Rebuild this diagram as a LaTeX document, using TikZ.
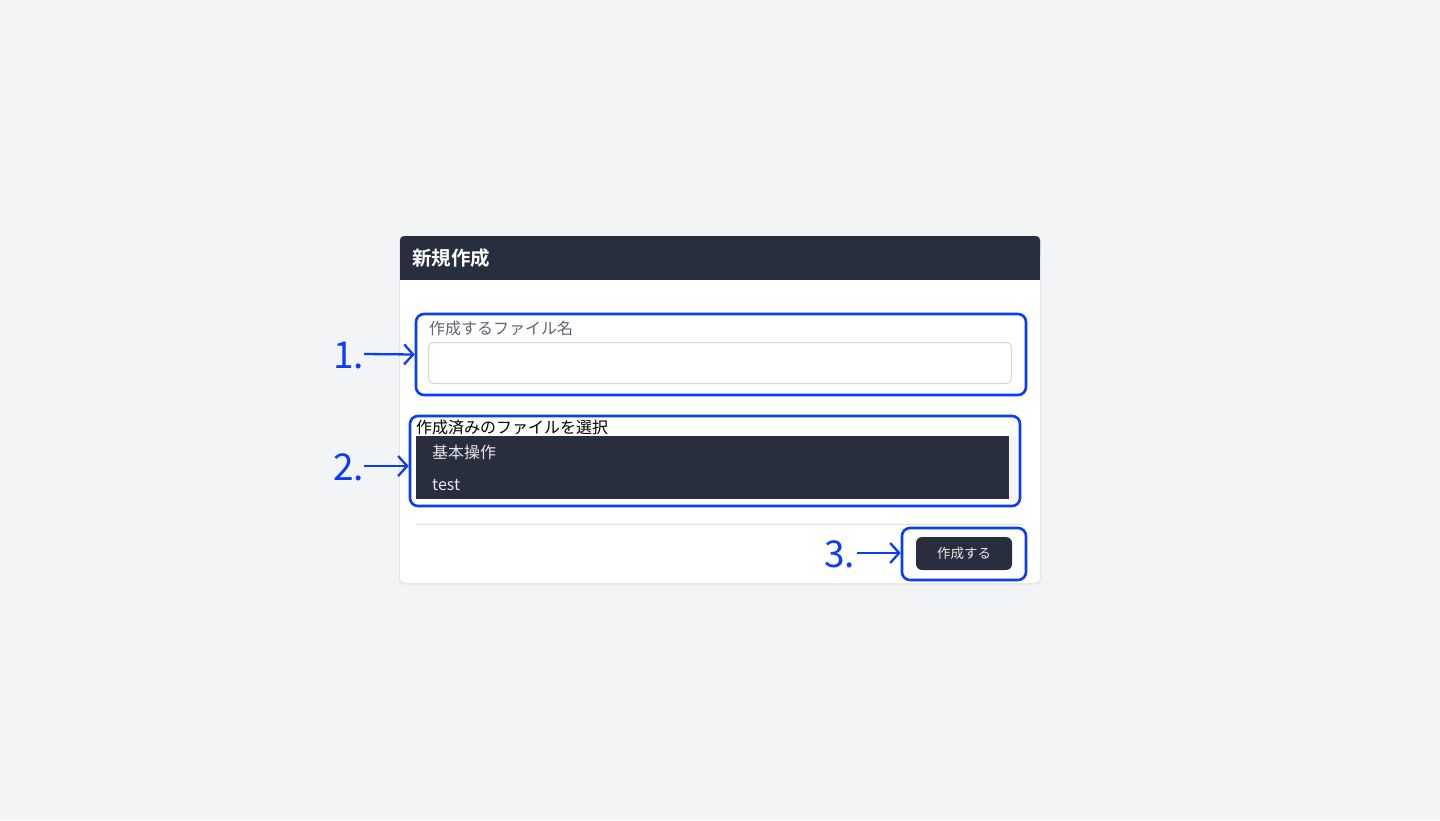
\documentclass[tikz,border=0pt]{standalone}
\usepackage{fontspec}
\setmainfont{Noto Sans CJK JP}
\newfontfamily\jpb{Noto Sans CJK JP}[BoldFont={* Bold}]
\newfontfamily\jpl{Noto Sans CJK JP Light}
\usetikzlibrary{arrows.meta}
\definecolor{bgc}{HTML}{F3F4F6}
\definecolor{darkc}{HTML}{282E3E}
\definecolor{bluec}{HTML}{0A3CFF}
\definecolor{grayline}{HTML}{D4D6DA}
\definecolor{labelgray}{HTML}{5F6470}
\definecolor{lighttxt}{HTML}{E6E8EC}
\tikzset{
  x=1pt,y=-1pt,
  hl/.style={draw=bluec,line width=2.6pt,rounded corners=8pt},
  ptr/.style={draw=bluec,line width=2.3pt,-{Straight Barb[length=9pt,width=20pt,line width=2.3pt]}},
  num/.style={text=bluec,font=\fontsize{37}{37}\selectfont,inner sep=0pt,anchor=base west},
  lbl/.style={font=\fontsize{16}{16}\selectfont,inner sep=0pt,anchor=base west},
}
\begin{document}
\begin{tikzpicture}
\useasboundingbox (0,0) rectangle (1440,820);
\fill[bgc] (0,0) rectangle (1440,820);
% card
\fill[black!10,rounded corners=5pt] (399,236) rectangle (1041,584.5);
\fill[white,rounded corners=5pt] (400,236) rectangle (1040,583);
\fill[darkc,rounded corners=4pt] (400,236) rectangle (1040,260);
\fill[darkc] (400,250) rectangle (1040,280);
\node[font=\jpb\bfseries\fontsize{19.5}{19.5}\selectfont,text=white,inner sep=0pt,anchor=base west] (title) at (412,265) {新規作成};
% field 1
\node[lbl,text=labelgray] (lab1) at (429,334) {作成するファイル名};
\draw[grayline,line width=1pt,rounded corners=5pt] (428.5,342.5) rectangle (1011.5,383.5);
\node[hl,minimum width=610pt,minimum height=81pt,inner sep=0pt] (box1) at (721,354.5) {};
\node[num] (n1) at (333,368) {1.};
\coordinate (a1) at (364,354);
\draw[ptr] (a1) -- (box1.west);
% field 2
\fill[black!4] (1009,436) rectangle (1016,499);
\fill[darkc] (416,436) rectangle (1009,499);
\node[lbl,text=black] (lab2) at (416,433) {作成済みのファイルを選択};
\node[lbl,text=lighttxt] (it1) at (432,458) {基本操作};
\node[lbl,text=lighttxt] (it2) at (432,490) {test};
\node[hl,minimum width=610pt,minimum height=90pt,inner sep=0pt] (box2) at (715,461) {};
\node[num] (n2) at (333,480) {2.};
\coordinate (a2) at (364,466);
\draw[ptr] (a2) -- (box2.west |- a2);
% divider
\draw[black!12,line width=1pt] (416,524.5) -- (1024,524.5);
% button
\node[fill=darkc,rounded corners=6pt,minimum width=96pt,minimum height=33pt,inner sep=0pt,text=lighttxt,font=\fontsize{13.5}{13.5}\selectfont] (btn) at (964,553.5) {作成する};
\node[hl,minimum width=124pt,minimum height=52pt,inner sep=0pt] (box3) at (964,554) {};
\node[num] (n3) at (824,567) {3.};
\coordinate (a3) at (857,553);
\draw[ptr] (a3) -- (box3.west |- a3);
\end{tikzpicture}
\end{document}
